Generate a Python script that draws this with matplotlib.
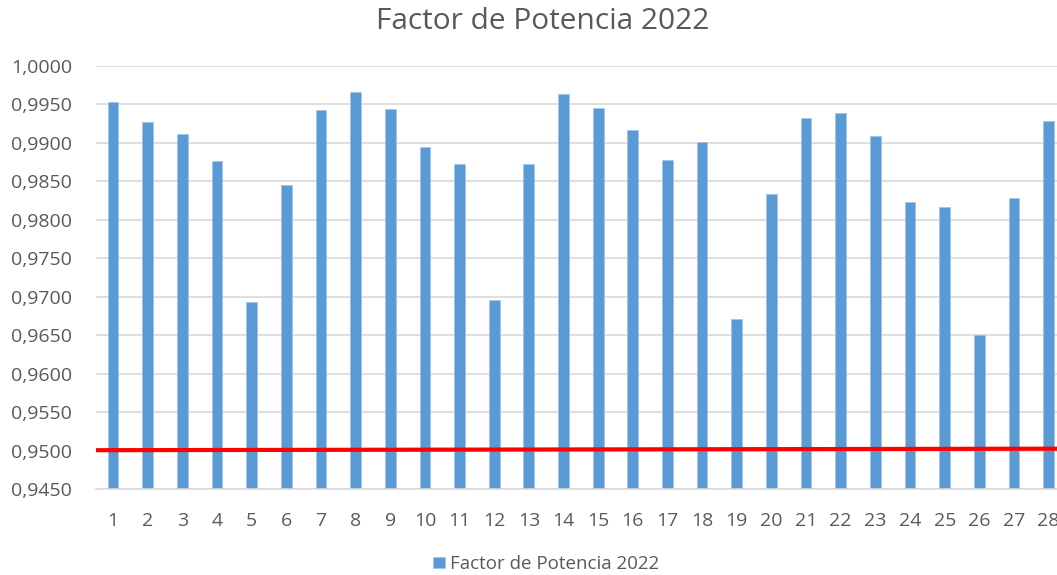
import matplotlib
matplotlib.use("Agg")
import matplotlib.pyplot as plt
from matplotlib.ticker import FuncFormatter, MultipleLocator

plt.rcParams['font.family'] = ['Open Sans', 'DejaVu Sans']

# data
days = list(range(1, 29))
factor_2022 = [0.9953, 0.9927, 0.9912, 0.9876, 0.9693, 0.9845, 0.9943, 0.9966,
               0.9944, 0.9895, 0.9873, 0.9696, 0.9872, 0.9963, 0.9945, 0.9917,
               0.9878, 0.9901, 0.9671, 0.9833, 0.9932, 0.9939, 0.9909, 0.9823,
               0.9817, 0.9651, 0.9828, 0.9928]
limit_ends = [0.9501, 0.9503]   # red reference line, left and right ends

bar_color = '#5B9BD5'
text_color = '#595959'
grid_color = '#D9D9D9'

fig = plt.figure(figsize=(10.57, 5.75), dpi=100)
ax = fig.add_axes([0.0905, 0.1487, 0.918, 0.737])

ax.bar(days, factor_2022, width=0.31, color=bar_color, edgecolor='#9DC3E6',
       linewidth=0.4, label='Factor de Potencia 2022', zorder=2)
ax.plot([0.5, 28.5], limit_ends, color='#FF0000', linewidth=3.0, zorder=3)

ax.set_ylim(0.9450, 1.0000)
ax.set_xlim(0.5, 28.5)
ax.yaxis.set_major_locator(MultipleLocator(0.005))
ax.yaxis.set_major_formatter(FuncFormatter(lambda v, p: f"{v:.4f}".replace('.', ',')))
ax.set_xticks(days)
ax.set_xticklabels([str(d) for d in days])

ax.grid(axis='y', color=grid_color, linewidth=1.2, zorder=0)
ax.set_axisbelow(True)
for s in ['top', 'right', 'left']:
    ax.spines[s].set_visible(False)
ax.spines['bottom'].set_color(grid_color)
ax.spines['bottom'].set_linewidth(1.2)
ax.tick_params(axis='both', length=0, labelsize=14, labelcolor=text_color)
ax.tick_params(axis='x', pad=16)
ax.tick_params(axis='y', pad=17)

fig.text(0.513, 0.962, 'Factor de Potencia 2022', ha='center', va='center',
         fontsize=21.5, color=text_color)

handles, labels = ax.get_legend_handles_labels()
fig.legend(handles, labels, loc='center', bbox_to_anchor=(0.517, 0.019),
           frameon=False, fontsize=13.5, labelcolor=text_color,
           handlelength=0.6, handleheight=0.6, handletextpad=0.3)

fig.savefig('out.png', dpi=100)
